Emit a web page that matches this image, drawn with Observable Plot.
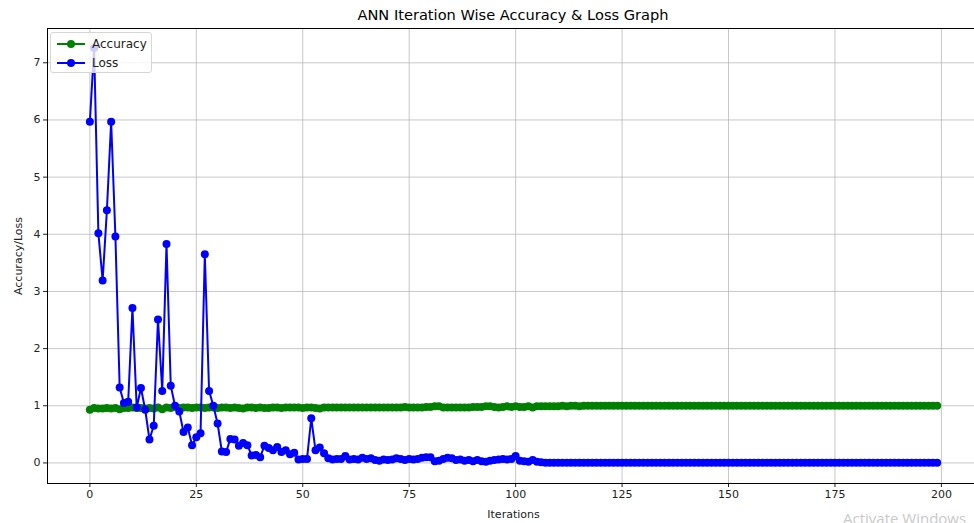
<!DOCTYPE html>
<html>
<head>
<meta charset="utf-8">
<script src="https://cdn.jsdelivr.net/npm/d3@7"></script>
<script src="https://cdn.jsdelivr.net/npm/@observablehq/plot@0.6"></script>
<style>
  html, body { margin: 0; padding: 0; background: #fff; overflow: hidden; }
  #wrap { position: relative; width: 974px; height: 523px; overflow: hidden; font-family: "DejaVu Sans", sans-serif; }
  #title { position: absolute; left: 47px; width: 932px; top: 0; height: 28px; line-height: 30px; text-align: center; font-size: 14.6px; color: #000; }
  #chart { position: absolute; left: 0; top: 27px; width: 980px; }
  #chart svg { max-width: none !important; }
  #legend { position: absolute; left: 50px; top: 32px; width: 102px; height: 41px; background: rgba(255,255,255,0.8); border: 1px solid #d6d6d6; border-radius: 3px; box-sizing: border-box; font-size: 12px; color: #222; }
  .row { position: absolute; left: 0; height: 18px; width: 100px; }
  .row svg { position: absolute; left: 5px; top: 0; }
  .row span { position: absolute; left: 41px; top: 1px; line-height: 16px; }
  #wm { position: absolute; left: 843px; top: 508px; font-size: 15px; color: #c9c9c9; white-space: nowrap; font-family: "Open Sans", sans-serif; }
</style>
</head>
<body>
<div id="wrap">
  <div id="title">ANN Iteration Wise Accuracy &amp; Loss Graph</div>
  <div id="chart"></div>
  <div id="legend"></div>
  <div id="wm">Activate Windows</div>
</div>
<script>
const accuracy = [
  0.93,0.96,0.95,0.95,0.96,0.95,0.96,0.94,0.96,0.96,
  0.97,0.96,0.96,0.95,0.96,0.95,0.97,0.94,0.97,0.96,
  0.98,0.96,0.97,0.97,0.96,0.97,0.97,0.96,0.97,0.97,
  0.96,0.97,0.97,0.96,0.97,0.96,0.95,0.97,0.97,0.96,
  0.97,0.96,0.96,0.97,0.97,0.96,0.97,0.97,0.97,0.97,
  0.96,0.97,0.97,0.96,0.95,0.97,0.97,0.97,0.97,0.97,
  0.97,0.97,0.97,0.97,0.97,0.97,0.97,0.97,0.97,0.97,
  0.97,0.97,0.97,0.97,0.98,0.97,0.97,0.97,0.97,0.98,
  0.98,0.99,0.99,0.97,0.97,0.97,0.97,0.97,0.97,0.97,
  0.98,0.98,0.98,0.99,0.99,0.98,0.97,0.98,0.99,0.98,
  0.99,0.98,0.98,0.99,0.97,0.99,0.99,0.99,0.99,0.99,
  0.99,1.0,0.99,1.0,1.0,0.99,1.0,1.0,1.0,1.0,
  1.0,1.0,1.0,1.0,1.0,1.0,1.0,1.0,1.0,1.0,
  1.0,1.0,1.0,1.0,1.0,1.0,1.0,1.0,1.0,1.0,
  1.0,1.0,1.0,1.0,1.0,1.0,1.0,1.0,1.0,1.0,
  1.0,1.0,1.0,1.0,1.0,1.0,1.0,1.0,1.0,1.0,
  1.0,1.0,1.0,1.0,1.0,1.0,1.0,1.0,1.0,1.0,
  1.0,1.0,1.0,1.0,1.0,1.0,1.0,1.0,1.0,1.0,
  1.0,1.0,1.0,1.0,1.0,1.0,1.0,1.0,1.0,1.0,
  1.0,1.0,1.0,1.0,1.0,1.0,1.0,1.0,1.0,1.0
];
const loss = [
  5.97,7.26,4.02,3.19,4.42,5.97,3.96,1.32,1.05,1.07,
  2.71,0.97,1.31,0.93,0.41,0.65,2.51,1.26,3.83,1.35,
  1.00,0.90,0.54,0.62,0.31,0.45,0.52,3.65,1.26,1.00,
  0.69,0.20,0.19,0.42,0.41,0.30,0.35,0.31,0.13,0.14,
  0.10,0.30,0.26,0.22,0.28,0.19,0.22,0.15,0.18,0.06,
  0.07,0.07,0.78,0.22,0.27,0.17,0.08,0.06,0.07,0.07,
  0.12,0.06,0.07,0.06,0.09,0.07,0.08,0.05,0.04,0.06,
  0.05,0.06,0.08,0.07,0.05,0.07,0.06,0.07,0.09,0.10,
  0.10,0.03,0.04,0.07,0.09,0.08,0.05,0.06,0.04,0.05,
  0.03,0.05,0.03,0.02,0.04,0.05,0.06,0.07,0.06,0.07,
  0.12,0.04,0.03,0.02,0.05,0.02,0.01,0.005,0.005,0.005,
  0.005,0.005,0.005,0.005,0.005,0.005,0.005,0.005,0.005,0.005,
  0.005,0.005,0.005,0.005,0.005,0.005,0.005,0.005,0.005,0.005,
  0.005,0.005,0.005,0.005,0.005,0.005,0.005,0.005,0.005,0.005,
  0.005,0.005,0.005,0.005,0.005,0.005,0.005,0.005,0.005,0.005,
  0.005,0.005,0.005,0.005,0.005,0.005,0.005,0.005,0.005,0.005,
  0.005,0.005,0.005,0.005,0.005,0.005,0.005,0.005,0.005,0.005,
  0.005,0.005,0.005,0.005,0.005,0.005,0.005,0.005,0.005,0.005,
  0.005,0.005,0.005,0.005,0.005,0.005,0.005,0.005,0.005,0.005,
  0.005,0.005,0.005,0.005,0.005,0.005,0.005,0.005,0.005,0.005
];
const xTicks = [0, 25, 50, 75, 100, 125, 150, 175, 200];
const yTicks = [0, 1, 2, 3, 4, 5, 6, 7];
const seriesNames = ["Accuracy", "Loss"];
const seriesColors = ["#008000", "#0000ff"];

const accData = accuracy.map((v, i) => ({i, v}));
const lossData = loss.map((v, i) => ({i, v}));

const chart = Plot.plot({
  width: 980,
  height: 496,
  marginLeft: 47,
  marginRight: 1,
  marginTop: 1,
  marginBottom: 40,
  style: {fontFamily: "DejaVu Sans, sans-serif", fontSize: "11px", color: "#222", background: "transparent"},
  x: {domain: [-9.95, 208.95], ticks: xTicks, tickSize: 4, tickPadding: 3, label: "Iterations", labelAnchor: "center", labelArrow: "none", labelOffset: 34},
  y: {domain: [-0.36, 7.6], ticks: yTicks, tickSize: 4, tickPadding: 3, label: "Accuracy/Loss", labelAnchor: "center", labelArrow: "none", labelOffset: 33},
  marks: [
    Plot.gridX(xTicks, {stroke: "#b0b0b0", strokeOpacity: 0.7, strokeWidth: 1}),
    Plot.gridY(yTicks, {stroke: "#b0b0b0", strokeOpacity: 0.7, strokeWidth: 1}),
    Plot.line(accData, {x: "i", y: "v", stroke: seriesColors[0], strokeWidth: 2}),
    Plot.dot(accData, {x: "i", y: "v", r: 4, fill: seriesColors[0], stroke: null}),
    Plot.line(lossData, {x: "i", y: "v", stroke: seriesColors[1], strokeWidth: 2}),
    Plot.dot(lossData, {x: "i", y: "v", r: 4, fill: seriesColors[1], stroke: null}),
    Plot.frame({stroke: "#000", strokeWidth: 1})
  ]
});
chart.style.maxWidth = "none";
document.getElementById("chart").appendChild(chart);

const legend = document.getElementById("legend");
seriesNames.forEach((name, k) => {
  const row = document.createElement("div");
  row.className = "row";
  row.style.top = (2 + k * 19) + "px";
  row.innerHTML = `<svg width="30" height="18"><line x1="1" x2="29" y1="9" y2="9" stroke="${seriesColors[k]}" stroke-width="2"/><circle cx="15" cy="9" r="4" fill="${seriesColors[k]}"/></svg><span>${name}</span>`;
  legend.appendChild(row);
});
</script>
</body>
</html>
